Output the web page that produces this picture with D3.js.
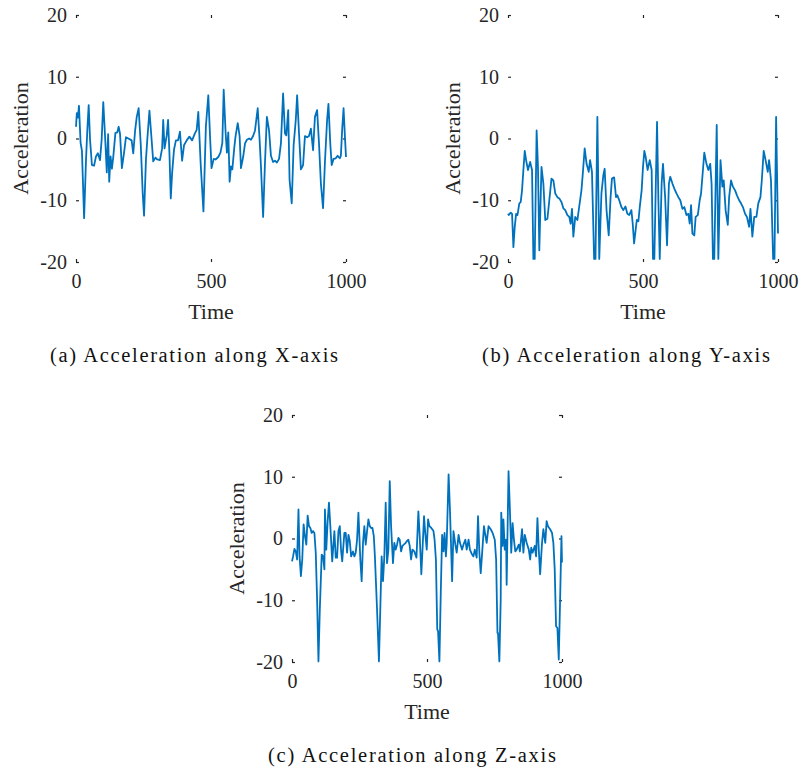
<!DOCTYPE html>
<html>
<head>
<meta charset="utf-8">
<script src="https://cdn.jsdelivr.net/npm/d3@7"></script>
<style>
  html, body { margin: 0; padding: 0; background: #fff; }
  svg { display: block; }
</style>
</head>
<body>
<div id="chart"></div>
<script>
// ---------- data ----------
const xTicks = [0, 500, 1000];
const yTicks = [-20, -10, 0, 10, 20];
const captions = ["(a) Acceleration along X-axis", "(b) Acceleration along Y-axis", "(c) Acceleration along Z-axis"];
const xLabel = "Time";
const yLabel = "Acceleration";

const timeA = [0,3,7,11,17,22,30,37,42,47,52,59,67,74,81,89,95,101,109,114,119,123,128,133,138,146,153,158,163,170,178,185,194,206,212,219,225,232,240,247,252,259,264,272,279,286,294,301,311,319,323,328,336,341,346,351,356,363,370,378,385,393,400,410,420,430,440,447,453,462,472,481,490,497,502,510,517,527,535,542,547,554,559,564,569,574,579,586,591,599,606,611,619,626,633,641,648,656,663,673,680,685,693,700,707,715,722,730,737,744,752,759,767,774,779,786,791,799,806,814,819,826,833,841,848,856,863,870,878,885,893,900,907,915,922,930,935,942,947,954,962,969,977,981,986,991,996,1000];
const accelA = [1.9,4.1,3.4,5.3,-0.7,-2,-12.9,-3.5,1.4,5.4,-0.2,-4.3,-4.4,-2.9,-2.4,-3.5,-0.2,5.9,-0.8,-5.5,0.7,-7,-2.9,-4.9,-3,0.9,1,1.9,0.8,-4.8,-2.3,0.2,0,-0.3,-2.4,1.3,3.5,4.9,-1.1,-8.8,-12.5,-3.5,-0.2,4.5,0.4,-3.7,-3.1,-3.4,-3.5,-1.6,3,-1.6,0.5,3,-2.3,-9.7,-5.6,-1.8,-0.3,-0.3,1.1,-3.6,-1.1,-0.3,0.3,-0.3,0.8,1.4,4.3,-4.3,-11.8,1.9,7,-0.2,-4.8,-3.3,-3.4,-3,-2.3,-0.7,7.9,1,-2.3,1,-7,-4.5,-5,-1.6,0.4,2.5,0.4,-4.8,-3,-0.8,-0.2,0,-0.2,0.4,1.3,4.9,-0.2,-4.5,-12.7,-3.8,3.5,1.3,-2.8,-3.8,-3.6,-3.9,-3.3,-0.8,7.3,0.8,0.5,4.6,-6.7,-10.5,-1.1,3,7,0.8,-5,-4.3,0.4,0.2,0.4,1.6,-1.9,3.5,4.6,-0.8,-7.3,-11.3,-3.8,3,5.6,-1,-4.3,-3.3,-3.2,-2.8,-3.2,-2.8,1.6,4.9,0.3,-3];

const timeB = [0,3,10,15,20,25,30,35,42,47,52,57,62,67,74,82,89,94,99,106,111,116,124,131,138,146,153,161,168,175,183,190,198,205,212,220,227,232,237,242,249,257,262,267,272,277,284,291,299,304,311,319,324,331,338,346,353,358,365,373,380,385,393,400,405,412,420,427,435,442,449,457,462,467,477,483,488,495,500,505,510,517,525,532,537,542,552,557,562,569,574,582,589,596,601,609,616,624,631,638,646,653,661,668,673,678,683,690,695,703,710,715,720,727,735,742,749,754,759,764,773,779,787,794,799,806,814,819,826,833,841,848,856,863,870,878,885,893,898,905,912,920,927,935,940,947,954,962,967,974,982,987,993,1000];
const accelB = [-12.2,-12.4,-12,-12.2,-17.6,-14.3,-12.2,-12.4,-10.5,-10.3,-8.4,-5.1,-2,-3.5,-5.1,-3.8,-5.1,-19.5,-19.5,1.3,-4.6,-18.1,-4.6,-7.3,-13.2,-13,-10,-6.5,-6.8,-8.9,-9.5,-9.7,-10.3,-11.3,-11.6,-12.4,-12.7,-13.8,-11.4,-15.9,-12.7,-13.2,-11.6,-10,-8.4,-5.7,-1.6,-4.1,-5.4,-3.5,-5.4,-19.5,-19.5,3.5,-19.5,-8.9,-6,-4.9,-11.6,-15.7,-9.5,-6.5,-6.3,-9.5,-9.2,-10,-11.1,-11.6,-11,-12.2,-12.4,-11.6,-13.8,-17,-13.2,-13.4,-11.1,-8.4,-4.6,-2,-3,-5.1,-3.5,-5.1,-19.5,-19.5,2.7,-10,-19.5,-7.3,-4.1,-9.5,-17.3,-7.3,-6.2,-7.3,-8.1,-8.9,-9.5,-10,-11.4,-11.1,-12.4,-12.2,-13.8,-10.8,-15.4,-15.7,-12.7,-12.4,-10,-8.9,-6.2,-2.3,-4.1,-5.1,-4.1,-7.3,-19.5,-19.5,2.2,-19.5,-3.5,-7.8,-6.8,-11.6,-14,-9.5,-6.8,-7.8,-8.4,-9.2,-10,-10.5,-11.1,-12.2,-12.7,-14.3,-11.4,-15.9,-12.7,-12.7,-10.5,-9.5,-6.8,-2,-3.5,-5.4,-3.5,-6.8,-19.5,-19.5,3.5,-15.4];

const timeC = [0,4,9,14,19,24,28,33,38,43,48,53,58,63,68,73,78,83,88,93,98,103,110,115,120,122,127,132,137,142,149,157,162,167,172,177,182,186,194,199,204,209,214,219,226,231,236,241,246,253,258,263,268,273,278,283,288,293,298,303,307,315,322,327,332,337,342,347,352,357,362,367,374,379,384,389,394,399,404,409,414,421,426,431,436,441,446,453,461,468,473,479,484,489,494,499,504,509,516,524,528,533,538,541,546,551,556,561,565,570,573,580,585,593,598,605,610,617,622,630,635,642,647,654,659,667,672,677,684,689,694,699,706,711,716,721,728,736,743,751,756,761,763,768,773,775,780,783,788,793,795,802,807,812,817,822,827,832,840,844,852,857,862,869,877,882,886,891,899,904,909,914,919,926,931,938,943,948,956,963,968,973,978,983,988,993,998,1000];
const accelC = [-3.7,-2.9,-1.7,-2.1,-3.4,4.7,-2.9,-6.1,-3.4,2.3,0.4,-1,3.7,2,1.7,0.9,1.2,0.9,-2.3,-9.9,-19.9,-11.5,-2.6,-2.9,-5,4.7,-1.8,2.8,5.8,2,-3.7,1.2,-3.1,-3.1,1.2,2,-2.1,-3.7,0.9,0.9,-2.3,0.6,-0.4,-2.9,-2.1,-2.9,-2.3,-0.2,4.2,-3.4,-6.9,-0.7,2,-1,1.2,3.1,2,1.7,1.7,0.4,-2.9,-11.5,-19.9,-11.5,-2.9,-6.9,-2.9,5.8,-4,-1.8,9.3,2,-4,-0.7,-1.8,-1,0.1,-0.2,-2.1,-1.2,-1,-0.7,-0.4,-0.2,-1.2,-3.4,-1.8,-2.1,-3.1,4.4,0.4,-5.8,-1.2,3.6,0.6,-1.8,3.1,2,1.7,1.2,-0.2,-3.4,-14.7,-15,-19.9,-8.8,0.6,-2.1,0.9,-2.9,-0.7,10.4,4.7,-6.9,1.2,-1,-2.3,0.6,-0.7,-1.8,-1,-0.2,-1.8,-0.2,-1.8,-2.6,-2.9,-1.8,-3.1,3.6,-2.3,-5.6,-1.2,2,0.6,-0.7,2,1.5,0.9,-0.2,-3.4,-15.3,-15.3,-19.9,-9.9,4.2,-1.2,3.1,-1.8,-0.2,-7.5,10.9,4.7,-2.3,2.5,-0.2,-2.1,-1.8,-1,-2.1,1.5,-2.3,0.6,-0.7,-1.8,-3.4,-1.5,-2.3,-1.2,-2.9,3.3,-1.8,-5.8,-0.7,1.5,-0.7,2.8,2,1.5,0.9,-0.7,-5,-14.2,-14.5,-19.6,-9.9,0.4,-3.9];

// ---------- layout ----------
const W = 799, H = 772;
const PW = 270, PH = 247;
const panels = [
  { t: timeA, v: accelA, ox: 76,  oy: 15,  cap: captions[0], capX: 194 },
  { t: timeB, v: accelB, ox: 508, oy: 15,  cap: captions[1], capX: 626 },
  { t: timeC, v: accelC, ox: 292, oy: 415, cap: captions[2], capX: 412 }
];
const textColor = "#262626";
const lineColor = "#0072BD";
const serif = "'Liberation Serif', 'Times New Roman', serif";

const svg = d3.select("#chart").append("svg")
  .attr("width", W).attr("height", H)
  .style("background", "#fff");

panels.forEach(p => {
  const g = svg.append("g").attr("transform", `translate(${p.ox},${p.oy})`);
  const x = d3.scaleLinear().domain([0, 1000]).range([0, PW]);
  const y = d3.scaleLinear().domain([-20, 20]).range([PH, 0]);

  const fmt = d => String(d);
  const styleAxis = sel => {
    sel.select(".domain").remove();
    sel.selectAll(".tick line").attr("stroke", textColor).attr("stroke-width", 1.2);
    sel.selectAll(".tick text").attr("fill", textColor)
      .style("font-family", serif).style("font-size", "20px");
  };

  g.append("g").attr("transform", `translate(0,${PH})`)
    .call(d3.axisBottom(x).tickValues(xTicks).tickFormat(fmt).tickSizeInner(-3).tickSizeOuter(0).tickPadding(12))
    .call(styleAxis);
  g.append("g")
    .call(d3.axisTop(x).tickValues(xTicks).tickFormat("").tickSizeInner(-3).tickSizeOuter(0))
    .call(styleAxis);
  g.append("g")
    .call(d3.axisLeft(y).tickValues(yTicks).tickFormat(fmt).tickSizeInner(-3).tickSizeOuter(0).tickPadding(9))
    .call(styleAxis);
  g.append("g").attr("transform", `translate(${PW},0)`)
    .call(d3.axisRight(y).tickValues(yTicks).tickFormat("").tickSizeInner(-3).tickSizeOuter(0))
    .call(styleAxis);

  const pts = p.t.map((t, i) => [t, p.v[i]]);
  g.append("path")
    .datum(pts)
    .attr("fill", "none")
    .attr("stroke", lineColor)
    .attr("stroke-width", 1.8)
    .attr("stroke-linejoin", "round")
    .attr("d", d3.line().x(d => x(d[0])).y(d => y(d[1])));

  g.append("text")
    .attr("x", PW / 2).attr("y", PH + 57)
    .attr("text-anchor", "middle")
    .attr("fill", textColor)
    .style("font-family", serif).style("font-size", "22px")
    .text(xLabel);

  g.append("text")
    .attr("transform", `translate(-48,${PH / 2}) rotate(-90)`)
    .attr("text-anchor", "middle")
    .attr("fill", textColor)
    .style("font-family", serif).style("font-size", "22px")
    .text(yLabel);

  svg.append("text")
    .attr("x", p.capX).attr("y", p.oy + PH + 100)
    .attr("text-anchor", "middle")
    .attr("fill", "#111")
    .attr("textLength", 288)
    .attr("lengthAdjust", "spacing")
    .style("font-family", serif).style("font-size", "20.5px")
    .text(p.cap);
});
</script>
</body>
</html>
